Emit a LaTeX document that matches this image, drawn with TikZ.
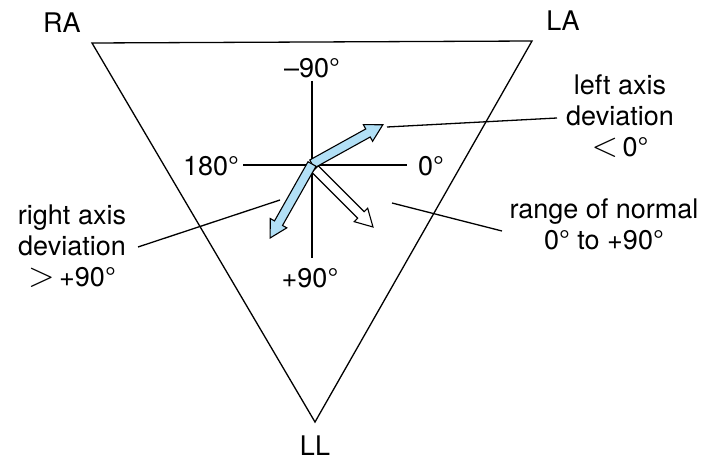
\documentclass[tikz,border=0pt]{standalone}
\usepackage{fontspec}
\usepackage{graphicx}
\setmainfont{TeX Gyre Heros}
\begin{document}
\begin{tikzpicture}[x=1pt,y=-1pt,
  line/.style={line width=1.3pt,black},
  lbl/.style={font=\fontsize{27}{31}\selectfont,inner sep=0pt,align=center},
  arrowfill/.style={draw=black,line width=1.1pt,line join=miter},
]
\definecolor{axisblue}{RGB}{178,224,246}
\useasboundingbox (0,0) rectangle (708,465);
% triangle corners
\coordinate (cRA) at (92,43);
\coordinate (cLA) at (532,41);
\coordinate (cLL) at (315,422);
\draw[line,line join=miter] (cRA) -- (cLA) -- (cLL) -- cycle;
\node[lbl] (RA) at (62,23) {RA};
\node[lbl] (LA) at (563,21) {LA};
\node[lbl] (LL) at (315,446) {LL};
% axes
\coordinate (O) at (312,165);
\coordinate (axT) at (312,81);
\coordinate (axB) at (312,258);
\coordinate (axL) at (243,165);
\coordinate (axR) at (407,165);
\draw[line] (axT) -- (axB);
\draw[line] (axL) -- (axR);
\node[lbl] (m90) at (312,68) {–90°};
\node[lbl] (d180) at (211,166) {180°};
\node[lbl] (d0) at (431,166) {0°};
\node[lbl] (p90) at (310,278) {+90°};
% arrows: scope at origin, rotated by visual angle
\newcommand{\hollowarrow}[4]{%
  \begin{scope}[shift={#1},rotate=#2]
    \filldraw[arrowfill,fill=#4] (0,-4.6) -- (#3-17,-4.6) -- (#3-17,-9.5) -- (#3,0) -- (#3-17,9.5) -- (#3-17,4.6) -- (0,4.6) -- cycle;
  \end{scope}}
\hollowarrow{(315,169)}{-45}{82}{white}
\hollowarrow{(312,164)}{29}{81}{axisblue}
\hollowarrow{(312,164)}{240.5}{85}{axisblue}
% leader lines
\coordinate (la1) at (387,127);
\coordinate (la2) at (557,118);
\coordinate (rn1) at (392,203);
\coordinate (rn2) at (502,231);
\coordinate (ra1) at (280,200);
\coordinate (ra2) at (138,247);
\draw[line] (la1) -- (la2);
\draw[line] (rn1) -- (rn2);
\draw[line] (ra1) -- (ra2);
% text labels
\node[lbl] (lad) at (620,116) {left axis\\deviation\\\smash{\scalebox{1.4}{$<$}}\,0°};
\node[lbl] (rng) at (604,224) {range of normal\\0° to +90°};
\node[lbl] (rad) at (72,246) {right axis\\deviation\\\smash{\scalebox{1.4}{$>$}}\,+90°};
\end{tikzpicture}
\end{document}
